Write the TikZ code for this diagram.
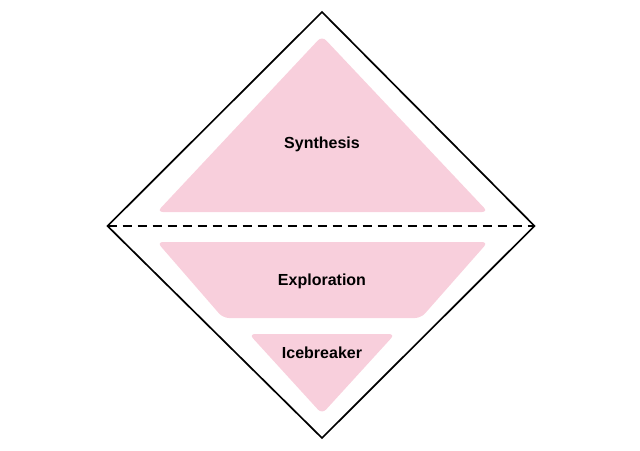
\documentclass[tikz,border=0pt]{standalone}
\usepackage{fontspec}
\setmainfont{Liberation Sans}
\definecolor{pinkfill}{RGB}{248,207,220}
\begin{document}
\begin{tikzpicture}[x=1pt,y=-1pt,
  zone/.style={fill=pinkfill,rounded corners=6pt},
  lbl/.style={font=\bfseries\fontsize{16}{19}\selectfont,text=black,inner sep=0pt},
  frame/.style={draw=black,line width=1.7pt,line join=miter}]
\useasboundingbox (0,0) rectangle (640,450);
\coordinate (T) at (322,12);
\coordinate (L) at (107.5,226);
\coordinate (R) at (534.5,226);
\coordinate (B) at (322,438);
\fill[zone] (322,36) -- (488,212) -- (157,212) -- cycle;
\fill[zone] (157,242) -- (488,242) -- (421,318) -- (223,318) -- cycle;
\fill[zone] (249,334) -- (395,334) -- (322,414) -- cycle;
\draw[frame] (T) -- (R) -- (B) -- (L) -- cycle;
\draw[draw=black,line width=1.7pt,dash pattern=on 9pt off 6pt] (L) -- (R);
\node[lbl] (syn) at (322,144) {Synthesis};
\node[lbl] (exp) at (322,281) {Exploration};
\node[lbl] (ice) at (322,353) {Icebreaker};
\end{tikzpicture}
\end{document}
